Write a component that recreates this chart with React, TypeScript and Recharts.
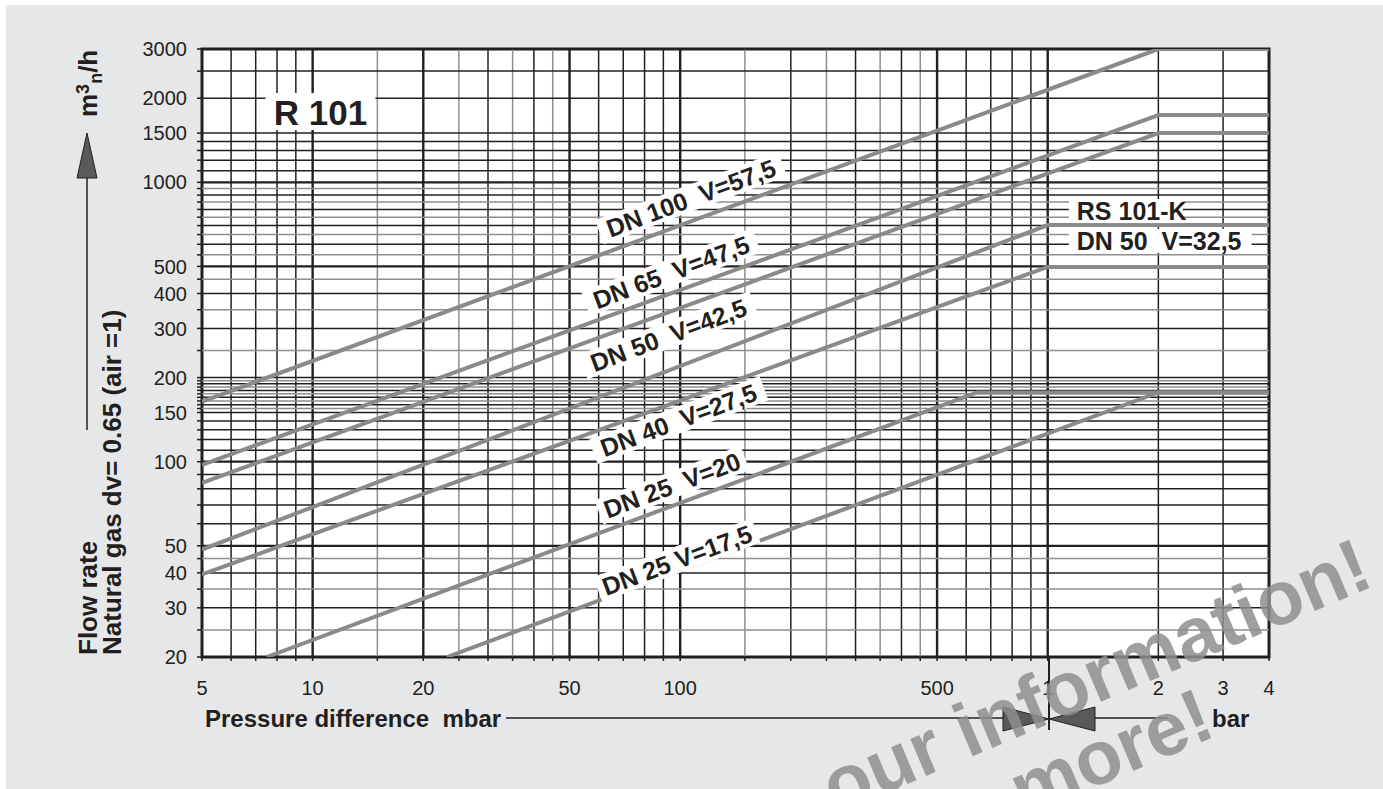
import React from 'react';
import { LineChart, Line, XAxis, YAxis, ReferenceLine, ReferenceArea, ReferenceDot } from 'recharts';

// ---- Axis grid values & tick labels ----
const pressureGrid = [5, 6, 7, 8, 9, 10, 15, 20, 25, 30, 35, 40, 45, 50, 60, 70, 80, 90, 100, 150, 200, 250, 300, 350, 400, 450, 500, 600, 700, 800, 900, 1000, 2000, 3000, 4000];
const pressureGridLight = [15, 25, 35, 45, 150, 250, 350, 450];
const pressureGridHeavy = [10, 20, 50, 100, 500, 1000];
const pressureLabelValues = [5, 10, 20, 50, 100, 500, 1000, 2000, 3000, 4000];
const pressureLabelTexts = ['5', '10', '20', '50', '100', '500', '1', '2', '3', '4'];

const flowGrid = [20, 25, 30, 35, 40, 45, 50, 60, 70, 80, 90, 100, 110, 120, 130, 140, 150, 155, 160, 165, 170, 175, 180, 185, 190, 195, 200, 250, 300, 350, 400, 450, 500, 550, 600, 650, 700, 750, 800, 850, 900, 950, 1000, 1100, 1200, 1300, 1400, 1500, 2000, 2500, 3000];
const flowGridLight = [25, 35, 45, 155, 165, 175, 185, 195, 250, 350, 450, 550, 650, 750, 850, 950];
const flowGridHeavy = [50, 100, 500, 1000];
const flowLabelValues = [20, 30, 40, 50, 100, 150, 200, 300, 400, 500, 1000, 1500, 2000, 3000];
const flowLabelTexts = ['20', '30', '40', '50', '100', '150', '200', '300', '400', '500', '1000', '1500', '2000', '3000'];

// ---- Series (pressure difference in mbar, flow in m3n/h) ----
const dn100P = [5, 2000, 4000];
const dn100Q = [164, 3000, 3000];
const dn65P = [5, 2000, 4000];
const dn65Q = [97.5, 1740, 1740];
const dn50P = [5, 2000, 4000];
const dn50Q = [84, 1500, 1500];
const rs50P = [5, 1000, 4000];
const rs50Q = [48.5, 703, 703];
const dn40P = [5, 1000, 4000];
const dn40Q = [39.5, 498, 498];
const dn25aP = [7.5, 642, 4000];
const dn25aQ = [20, 177, 177];
const dn25bP = [23.2, 2000, 4000];
const dn25bQ = [20, 177, 177];

// ---- Curve labels (text + anchor in data coordinates) ----
const curveLabelTexts = ['DN 100  V=57,5', 'DN 65  V=47,5', 'DN 50  V=42,5', 'DN 40  V=27,5', 'DN 25  V=20', 'DN 25 V=17,5'];
const curveLabelP = [107, 94.5, 93, 99, 95, 98];
const curveLabelQ = [879, 477, 284, 141, 82.5, 44.5];
const sideLabelTexts = ['RS 101-K', 'DN 50  V=32,5'];
const sideLabelP = [1200, 1200];
const sideLabelQ = [789, 617];
const titleText = 'R 101';
const titleP = 10.5;
const titleQ = 1770;

const zip = (ps: number[], qs: number[]) => ps.map((p, i) => ({ p, q: qs[i] }));
const series = [
  { name: 'DN 100', data: zip(dn100P, dn100Q) },
  { name: 'DN 65', data: zip(dn65P, dn65Q) },
  { name: 'DN 50', data: zip(dn50P, dn50Q) },
  { name: 'RS 101-K DN 50', data: zip(rs50P, rs50Q) },
  { name: 'DN 40', data: zip(dn40P, dn40Q) },
  { name: 'DN 25 V=20', data: zip(dn25aP, dn25aQ) },
  { name: 'DN 25 V=17,5', data: zip(dn25bP, dn25bQ) },
];

const FONT = '"Liberation Sans", Arial, Helvetica, sans-serif';
const DARK = '#231f20';
const GRIDGRAY = '#8e8e8e';
const LINEGRAY = '#8a8a8a';
const ANGLE = -20.5;

const RotLabel = (props: any) => {
  const { cx, cy, text } = props;
  const fs = 25;
  const w = text.length * fs * 0.53 + 10;
  return (
    <g transform={`translate(${cx},${cy}) rotate(${ANGLE})`}>
      <rect x={-w / 2} y={-fs * 0.52} width={w} height={fs * 1.04} fill="#fff" />
      <text x={0} y={fs * 0.36} textAnchor="middle" fontFamily={FONT} fontWeight="bold" fontSize={fs} fill={DARK} style={{ whiteSpace: 'pre' }}>{text}</text>
    </g>
  );
};

const SideLabel = (props: any) => {
  const { cx, cy, text } = props;
  const fs = 25;
  const w = text.length * fs * 0.55 + 4;
  return (
    <g>
      <rect x={cx - 8} y={cy - 12} width={w} height={24} fill="#fff" />
      <text x={cx} y={cy + 9} fontFamily={FONT} fontWeight="bold" fontSize={fs} fill={DARK} style={{ whiteSpace: 'pre' }}>{text}</text>
    </g>
  );
};

const TitleLabel = (props: any) => {
  const { cx, cy } = props;
  return (
    <g>
      <rect x={cx - 55} y={cy - 20} width={110} height={37} fill="#fff" />
      <text x={cx} y={cy + 12} textAnchor="middle" fontFamily={FONT} fontWeight="bold" fontSize={35} fill={DARK}>{titleText}</text>
    </g>
  );
};

const xTickFmt = (v: number) => {
  const i = pressureLabelValues.indexOf(v);
  return i >= 0 ? pressureLabelTexts[i] : '';
};
const yTickFmt = (v: number) => {
  const i = flowLabelValues.indexOf(v);
  return i >= 0 ? flowLabelTexts[i] : '';
};

export default function App() {
  return (
    <div style={{ position: 'absolute', left: 0, top: 0, width: 1383, height: 789, overflow: 'hidden', background: '#fff' }}>
      <div style={{ position: 'absolute', left: 6, top: 5, width: 1377, height: 784, background: '#e6e7e8' }} />
      <div style={{ position: 'absolute', left: 0, top: 0 }}>
        <LineChart width={1383} height={789} margin={{ top: 49, right: 114, bottom: 102, left: 142 }}>
          <XAxis
            type="number"
            dataKey="p"
            scale="log"
            domain={[5, 4000]}
            allowDataOverflow
            ticks={pressureGrid}
            interval={0}
            tickFormatter={xTickFmt}
            tickSize={4}
            tickMargin={20}
            height={30}
            axisLine={false}
            tickLine={{ stroke: DARK, strokeWidth: 1.5 }}
            tick={{ fontSize: 20, fill: DARK, fontFamily: FONT }}
          />
          <YAxis
            type="number"
            dataKey="q"
            scale="log"
            domain={[20, 3000]}
            allowDataOverflow
            ticks={flowGrid}
            interval={0}
            tickFormatter={yTickFmt}
            tickSize={5}
            tickMargin={10}
            width={60}
            axisLine={false}
            tickLine={{ stroke: DARK, strokeWidth: 1.5 }}
            tick={{ fontSize: 20, fill: DARK, fontFamily: FONT }}
          />
          <ReferenceArea x1={5} x2={4000} y1={20} y2={3000} fill="#ffffff" fillOpacity={1} stroke="none" />
          {pressureGrid.map((v) => (
            <ReferenceLine
              key={'vx' + v}
              x={v}
              stroke={pressureGridLight.includes(v) ? GRIDGRAY : DARK}
              strokeWidth={pressureGridHeavy.includes(v) ? 2.4 : 1.5}
            />
          ))}
          {flowGrid.map((v) => (
            <ReferenceLine
              key={'hy' + v}
              y={v}
              stroke={flowGridLight.includes(v) ? GRIDGRAY : DARK}
              strokeWidth={flowGridHeavy.includes(v) ? 2.2 : 1.5}
            />
          ))}
          <ReferenceDot x={titleP} y={titleQ} r={0} shape={(p: any) => <TitleLabel {...p} />} />
          {curveLabelTexts.map((t, i) => (
            <ReferenceDot key={'cl' + i} x={curveLabelP[i]} y={curveLabelQ[i]} r={0} shape={(p: any) => <RotLabel {...p} text={t} />} />
          ))}
          {sideLabelTexts.map((t, i) => (
            <ReferenceDot key={'sl' + i} x={sideLabelP[i]} y={sideLabelQ[i]} r={0} shape={(p: any) => <SideLabel {...p} text={t} />} />
          ))}
          {series.map((s) => (
            <Line
              key={s.name}
              name={s.name}
              data={s.data}
              dataKey="q"
              type="linear"
              stroke={LINEGRAY}
              strokeWidth={4}
              dot={false}
              activeDot={false}
              isAnimationActive={false}
            />
          ))}
          <ReferenceArea x1={5} x2={4000} y1={20} y2={3000} fill="none" fillOpacity={0} stroke={DARK} strokeWidth={3} />
        </LineChart>
      </div>
      <svg width={1383} height={789} style={{ position: 'absolute', left: 0, top: 0, pointerEvents: 'none' }}>
        {/* Y axis title */}
        <text transform="translate(97,655) rotate(-90)" fontFamily={FONT} fontWeight="bold" fontSize={26} fill={DARK}>Flow rate</text>
        <text transform="translate(121,655) rotate(-90)" fontFamily={FONT} fontWeight="bold" fontSize={26} fill={DARK}>Natural gas dv= 0.65 (air =1)</text>
        <line x1={87} y1={430} x2={87} y2={176} stroke={DARK} strokeWidth={1.5} />
        <polygon points="87,133 77,178 97,178" fill="#58595b" stroke={DARK} strokeWidth={1} />
        <text transform="translate(97,117) rotate(-90)" fontFamily={FONT} fontWeight="bold" fontSize={26} fill={DARK}>
          <tspan>m</tspan>
          <tspan fontSize={18} dy={-8}>3</tspan>
          <tspan fontSize={18} dy={13}>n</tspan>
          <tspan dy={-5}>/h</tspan>
        </text>
        {/* X axis title */}
        <text x={205} y={727} fontFamily={FONT} fontWeight="bold" fontSize={24} fill={DARK} style={{ whiteSpace: 'pre' }}>Pressure difference  mbar</text>
        <line x1={506} y1={718} x2={1003} y2={718} stroke={DARK} strokeWidth={1.5} />
        <line x1={1095} y1={718} x2={1168} y2={718} stroke={DARK} strokeWidth={1.5} />
        <line x1={1049} y1={657} x2={1049} y2={730} stroke={DARK} strokeWidth={2} />
        <polygon points="1003,707 1003,731 1049,719" fill="#58595b" stroke={DARK} strokeWidth={1} />
        <polygon points="1095,707 1095,731 1049,719" fill="#58595b" stroke={DARK} strokeWidth={1} />
        <text x={1212} y={727} fontFamily={FONT} fontWeight="bold" fontSize={24} fill={DARK}>bar</text>
        {/* watermark */}
        <g fill="#8f8f8f" opacity={0.85} fontFamily={FONT} fontWeight="bold" fontSize={76}>
          <text transform="translate(1376,585) rotate(-23)" textAnchor="end">our information!</text>
          <text transform="translate(1218,735) rotate(-23)" textAnchor="end">more!</text>
        </g>
      </svg>
    </div>
  );
}
